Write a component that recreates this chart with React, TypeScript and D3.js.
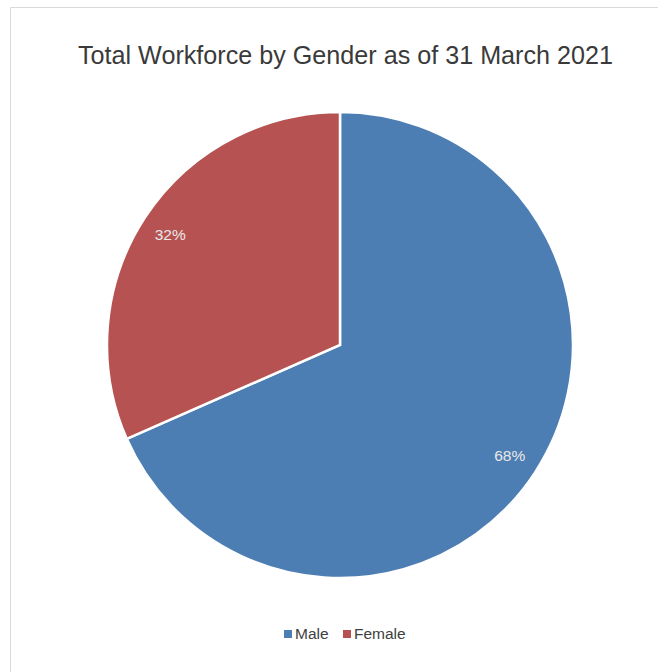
import React from "react";
import * as d3 from "d3";

const categories = ["Male", "Female"];
const values = [68.4, 31.6];
const colors = ["#4D7EB3", "#B65352"];
const title = "Total Workforce by Gender as of 31 March 2021";

const W = 658;
const H = 672;

export default function App() {
  const cx = 340;
  const cy = 345;
  const r = 233;
  const pie = d3.pie<number>().sort(null).value((d) => d);
  const arcs = pie(values);
  const arc = d3.arc<d3.PieArcDatum<number>>().innerRadius(0).outerRadius(r);
  const labelArc = d3
    .arc<d3.PieArcDatum<number>>()
    .innerRadius(r * 0.87)
    .outerRadius(r * 0.87);
  const total = d3.sum(values);

  const legendX = d3.scalePoint<string>().domain(categories).range([284, 343]);

  return (
    <svg
      width={W}
      height={H}
      style={{ position: "absolute", left: 0, top: 0, background: "#fff" }}
      fontFamily="'Liberation Sans', Arial, sans-serif"
    >
      <rect x={0} y={0} width={W} height={H} fill="#fff" />
      <line x1={10.5} y1={7.5} x2={W} y2={7.5} stroke="#d9d9d9" strokeWidth={1} />
      <line x1={10.5} y1={7.5} x2={10.5} y2={H} stroke="#d9d9d9" strokeWidth={1} />
      <text
        x={345.5}
        y={64}
        textAnchor="middle"
        fontSize={25}
        fill="#3a3a3a"
        fontWeight={300}
        textLength={535}
        lengthAdjust="spacingAndGlyphs"
      >
        {title}
      </text>
      <g transform={`translate(${cx},${cy})`}>
        {arcs.map((a, i) => (
          <path
            key={categories[i]}
            d={arc(a) || ""}
            fill={colors[i]}
            stroke="#fff"
            strokeWidth={2.5}
            strokeLinejoin="miter"
          />
        ))}
        {arcs.map((a, i) => {
          const [lx, ly] = labelArc.centroid(a);
          return (
            <text
              key={"l" + i}
              x={lx}
              y={ly}
              dy="0.35em"
              textAnchor="middle"
              fontSize={15.5}
              fill="#e9e9e9"
            >
              {`${Math.round((values[i] / total) * 100)}%`}
            </text>
          );
        })}
      </g>
      {categories.map((c, i) => (
        <g key={c} transform={`translate(${legendX(c)},630)`}>
          <rect x={0} y={0} width={8} height={8} fill={colors[i]} />
          <text x={11} y={9} fontSize={15.5} fill="#404040">
            {c}
          </text>
        </g>
      ))}
    </svg>
  );
}
